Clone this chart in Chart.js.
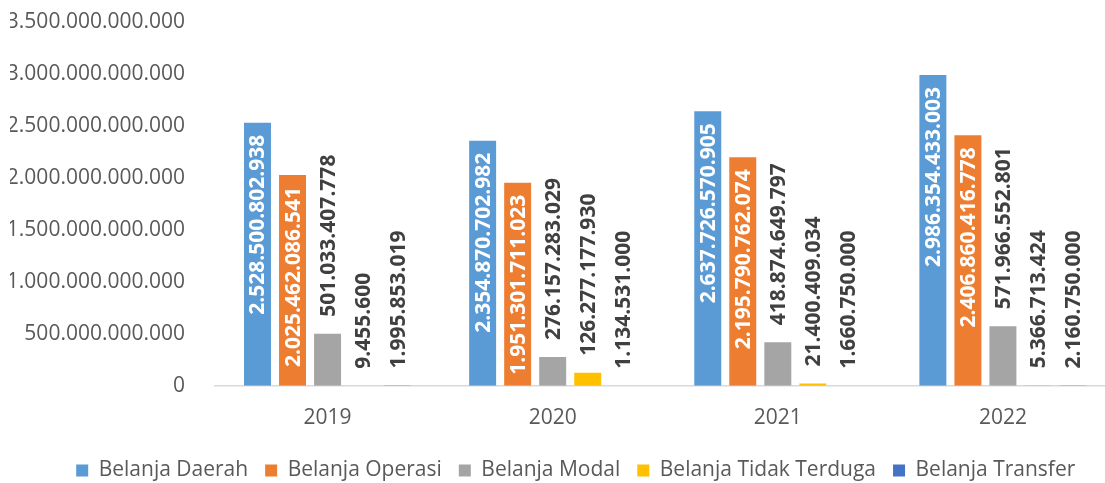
<!DOCTYPE html>
<html>
<head>
<meta charset="utf-8">
<script src="https://cdn.jsdelivr.net/npm/chart.js@4.4.1/dist/chart.umd.min.js"></script>
<style>
  html, body { margin: 0; padding: 0; background: #ffffff; overflow: hidden; }
  #wrap { position: absolute; left: 0; top: -13px; width: 1150px; height: 506px; }
</style>
</head>
<body>
<div id="wrap"><canvas id="chart"></canvas></div>
<script>
const years = ['2019', '2020', '2021', '2022'];

const belanjaDaerah       = [2528500802938, 2354870702982, 2637726570905, 2986354433003];
const belanjaOperasi      = [2025462086541, 1951301711023, 2195790762074, 2406860416778];
const belanjaModal        = [501033407778, 276157283029, 418874649797, 571966552801];
const belanjaTidakTerduga = [9455600, 126277177930, 21400409034, 5366713424];
const belanjaTransfer     = [1995853019, 1134531000, 1660750000, 2160750000];

const seriesNames = ['Belanja Daerah', 'Belanja Operasi', 'Belanja Modal', 'Belanja Tidak Terduga', 'Belanja Transfer'];
const seriesColors = ['#5B9BD5', '#ED7D31', '#A5A5A5', '#FFC000', '#4472C4'];

const yMax = 3500000000000;
const yStep = 500000000000;

function formatID(v) {
  return Math.round(v).toString().replace(/\B(?=(\d{3})+(?!\d))/g, '.');
}

const FONT = "'Open Sans', 'Noto Sans', sans-serif";

// Vertical value labels: white inside the two tallest series, dark above the rest
const barValueLabels = {
  id: 'barValueLabels',
  afterDatasetsDraw(chart) {
    const ctx = chart.ctx;
    ctx.save();
    ctx.font = 'bold 21px ' + FONT;
    ctx.textBaseline = 'middle';
    chart.data.datasets.forEach((ds, di) => {
      const meta = chart.getDatasetMeta(di);
      if (meta.hidden) return;
      const inside = di < 2;
      meta.data.forEach((bar, i) => {
        const text = formatID(ds.data[i]);
        ctx.save();
        ctx.translate(bar.x, bar.y);
        ctx.rotate(-Math.PI / 2);
        if (inside) {
          ctx.fillStyle = '#ffffff';
          ctx.textAlign = 'right';
          ctx.fillText(text, -12, 1);
        } else {
          ctx.fillStyle = '#404040';
          ctx.textAlign = 'left';
          ctx.fillText(text, 17, 1);
        }
        ctx.restore();
      });
    });
    ctx.restore();
  }
};

// Nudge the legend row to the right so it sits centred under the page
const legendShift = {
  id: 'legendShift',
  afterLayout(chart) {
    if (chart.legend) {
      chart.legend.left += 13;
      chart.legend.right += 13;
    }
  }
};

const datasets = [belanjaDaerah, belanjaOperasi, belanjaModal, belanjaTidakTerduga, belanjaTransfer].map((d, i) => ({
  label: seriesNames[i],
  data: d,
  backgroundColor: seriesColors[i],
  borderWidth: 0,
  categoryPercentage: 0.778,
  barPercentage: 0.77
}));

new Chart(document.getElementById('chart'), {
  type: 'bar',
  data: { labels: years, datasets },
  options: {
    responsive: true,
    maintainAspectRatio: false,
    animation: false,
    layout: { padding: { left: 10, right: 34.5, top: 10, bottom: 2 } },
    plugins: {
      tooltip: { enabled: false },
      legend: {
        position: 'bottom',
        labels: {
          boxWidth: 12,
          boxHeight: 12,
          padding: 17,
          color: '#595959',
          font: { family: FONT, size: 21 }
        }
      }
    },
    scales: {
      x: {
        grid: { display: false },
        border: { display: true, color: '#D9D9D9', width: 1.5 },
        ticks: { color: '#595959', font: { family: FONT, size: 21 }, padding: 12 }
      },
      y: {
        min: 0,
        max: yMax,
        grid: { display: false },
        border: { display: false },
        afterFit(scale) { scale.width = 205; },
        ticks: {
          stepSize: yStep,
          color: '#595959',
          padding: 22,
          font: { family: FONT, size: 21 },
          callback: (v) => formatID(v)
        }
      }
    }
  },
  plugins: [barValueLabels, legendShift]
});
</script>
</body>
</html>
